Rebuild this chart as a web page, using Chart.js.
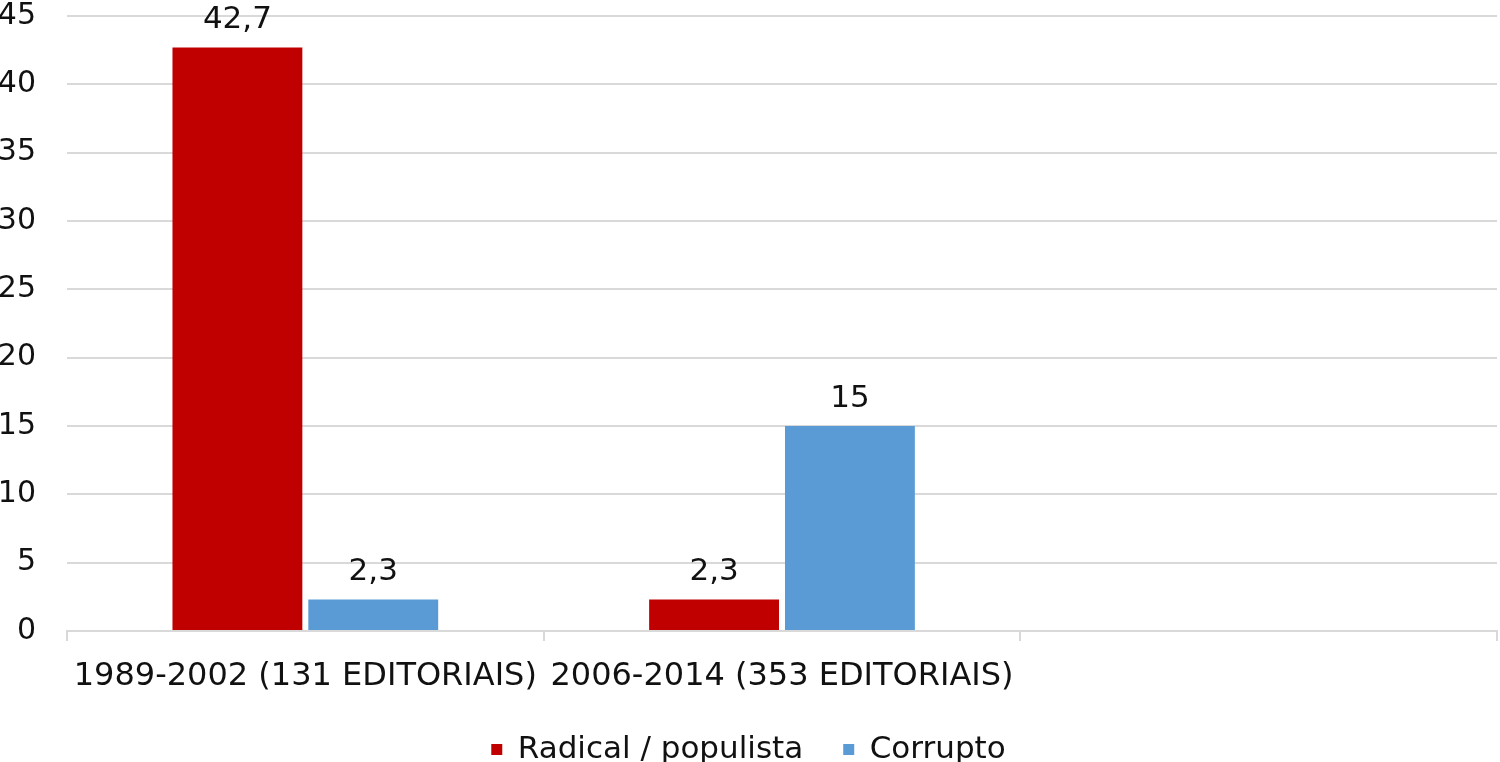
<!DOCTYPE html>
<html>
<head>
<meta charset="utf-8">
<script src="https://cdn.jsdelivr.net/npm/chart.js@4"></script>
<style>
  html, body { margin: 0; padding: 0; background: #fff; }
  #wrap { width: 1500px; height: 762px; }
</style>
</head>
<body>
<div id="wrap"><canvas id="editChart" width="1500" height="762"></canvas></div>
<script>
const categories = ["1989-2002 (131 EDITORIAIS)", "2006-2014 (353 EDITORIAIS)", ""];
const radicalValues = [42.7, 2.3, null];
const corruptoValues = [2.3, 15, null];
const seriesNames = ["Radical / populista", "Corrupto"];
const yTicks = [0, 5, 10, 15, 20, 25, 30, 35, 40, 45];

const FONT = "'DejaVu Sans', Verdana, sans-serif";
const GRID = "#d9d9d9";

function fmt(v) {
  return String(v).replace(".", ",");
}

// value labels above bars, Excel style
const barLabels = {
  id: "barLabels",
  afterDatasetsDraw(chart) {
    const ctx = chart.ctx;
    ctx.save();
    ctx.font = "31px " + FONT;
    ctx.fillStyle = "#111";
    ctx.textAlign = "center";
    ctx.textBaseline = "bottom";
    chart.data.datasets.forEach((ds, i) => {
      chart.getDatasetMeta(i).data.forEach((bar, j) => {
        const v = ds.data[j];
        if (v == null) return;
        ctx.fillText(fmt(v), bar.x, bar.y - 12);
      });
    });
    ctx.restore();
  },
};

// fix the legend box height so the plot keeps the reference proportions
const legendHeight = {
  id: "legendHeight",
  beforeInit(chart) {
    const origFit = chart.legend.fit;
    chart.legend.fit = function () {
      origFit.bind(chart.legend)();
      this.height = 68;
    };
  },
};

new Chart(document.getElementById("editChart").getContext("2d"), {
  type: "bar",
  data: {
    labels: categories,
    datasets: [
      {
        label: seriesNames[0],
        data: radicalValues,
        backgroundColor: "#c00000",
        barPercentage: 0.956,
        categoryPercentage: 0.57,
      },
      {
        label: seriesNames[1],
        data: corruptoValues,
        backgroundColor: "#5b9bd5",
        barPercentage: 0.956,
        categoryPercentage: 0.57,
      },
    ],
  },
  options: {
    responsive: false,
    animation: false,
    layout: { padding: { top: 0, right: 3, bottom: 0, left: 0 } },
    plugins: {
      tooltip: { enabled: false },
      legend: {
        position: "bottom",
        labels: {
          font: { family: FONT, size: 31 },
          color: "#111",
          boxWidth: 11,
          boxHeight: 11,
          padding: 40,
        },
      },
    },
    scales: {
      x: {
        afterFit(axis) {
          axis.height = 63;
          axis.paddingLeft = 0;
          axis.paddingRight = 0;
        },
        grid: {
          offset: true,
          drawOnChartArea: false,
          drawTicks: true,
          tickLength: 10,
          color: GRID,
          lineWidth: 2,
        },
        border: { display: true, color: GRID, width: 2 },
        ticks: {
          font: { family: FONT, size: 32 },
          color: "#111",
          padding: 16,
          maxRotation: 0,
          autoSkip: false,
        },
      },
      y: {
        min: 0,
        max: 45,
        afterBuildTicks(axis) {
          axis.ticks = yTicks.map((v) => ({ value: v }));
        },
        afterFit(axis) {
          axis.width = 67;
          axis.paddingTop = 16;
          axis.paddingBottom = 0;
        },
        grid: { color: GRID, lineWidth: 2, drawTicks: false },
        border: { display: false },
        ticks: {
          font: { family: FONT, size: 30 },
          color: "#111",
          padding: 31,
        },
      },
    },
  },
  plugins: [barLabels, legendHeight],
});
</script>
</body>
</html>
